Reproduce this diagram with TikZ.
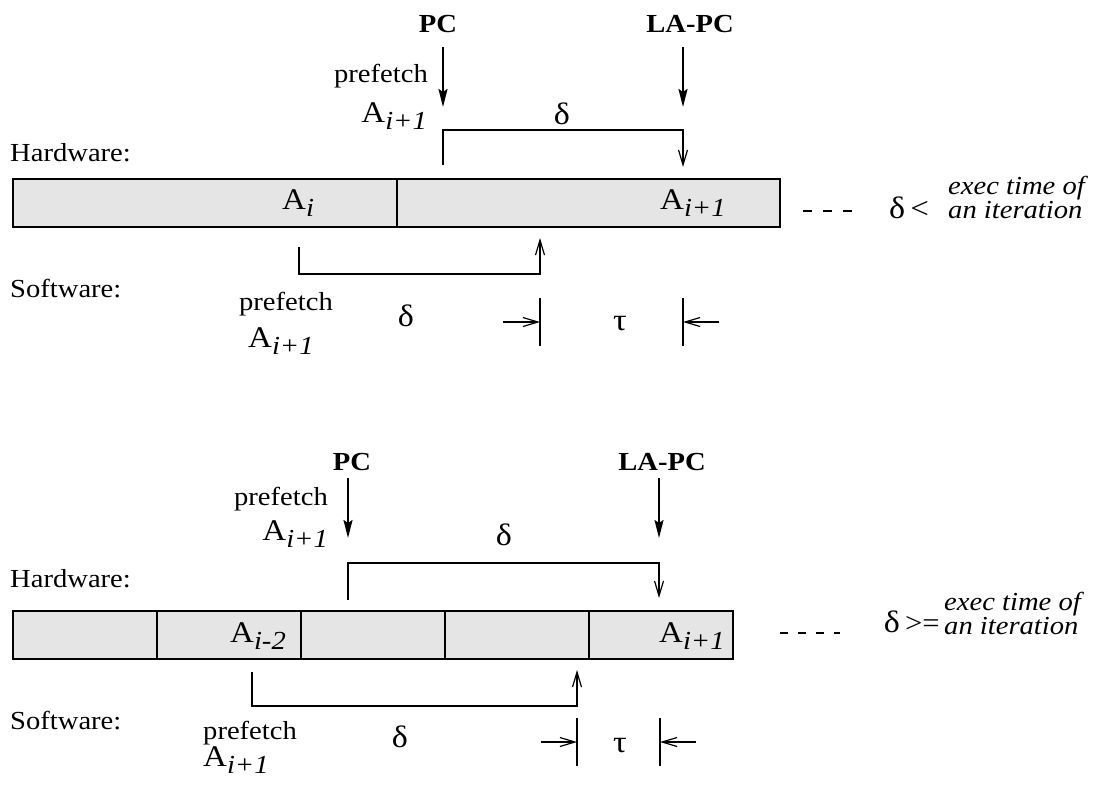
\documentclass[tikz,border=0pt]{standalone}
\usepackage{fontspec}
\setmainfont{Liberation Serif}[FakeStretch=1.1]
\usetikzlibrary{arrows.meta}
\newcommand{\sbs}[1]{\raisebox{-7pt}{\textit{#1}}}
\newcommand{\Alab}{{\fontsize{30}{32}\selectfont A}}
\begin{document}
\begin{tikzpicture}[x=1pt,y=-1pt,
  txt/.style={inner sep=0pt, font=\fontsize{26}{28}\selectfont},
  grk/.style={inner sep=0pt, font=\fontsize{31}{33}\selectfont},
  bld/.style={inner sep=0pt, font=\fontsize{26}{28}\selectfont\bfseries},
  itx/.style={inner sep=0pt, font=\fontsize{26}{28}\selectfont\itshape},
  bigarrow/.style={line width=2pt, -{Stealth[length=18pt,width=9pt,inset=3pt]}},
  brkarrow/.style={line width=1.2pt, -{Straight Barb[length=15pt,width=9pt]}},
  thinline/.style={line width=1.2pt},
  cell/.style={draw, line width=1.5pt, fill=black!10, minimum height=48pt, inner sep=0pt, anchor=north west},
  dashline/.style={line width=1.2pt, dash pattern=on 9pt off 11pt}
]
\useasboundingbox (0,0) rectangle (1115,790);

%% ================= TOP PANEL =================
\node[bld, anchor=base] (pcA) at (438,32) {PC};
\node[bld, anchor=base] (lapcA) at (690,32) {LA-PC};
\coordinate (pcAs) at (443,47);  \coordinate (pcAe) at (443,107);
\coordinate (laAs) at (683,47);  \coordinate (laAe) at (683,107);
\draw[bigarrow] (pcAs) -- (pcAe);
\draw[bigarrow] (laAs) -- (laAe);

\node[txt, anchor=base east] (pfA) at (428,82) {prefetch};
\node[txt, anchor=base east] (aA) at (427,122) {\Alab\sbs{i+1}};
\node[grk] (dA) at (562,114) {δ};
\node[txt, anchor=base west] (hwA) at (10,161) {Hardware:};

\coordinate (hbA1) at (443,165);
\coordinate (hbA2) at (683,167);
\draw[brkarrow] (hbA1) -- ++(0,-35) -| (hbA2);

\node[cell, minimum width=384pt] (cA1) at (12,178) {};
\node[cell, minimum width=383pt] (cA2) at (396,178) {};
\node[txt, anchor=base west] (aiA) at (282,209) {\Alab\sbs{i}};
\node[txt, anchor=base west] (ai1A) at (660,209) {\Alab\sbs{i+1}};

\coordinate (dsA1) at (803,211); \coordinate (dsA2) at (852,211);
\draw[dashline] (dsA1) -- (dsA2);
\node[grk, anchor=base west] (ltA) at (889,218) {δ\,{\fontsize{30}{32}\selectfont<}};
\node[itx, anchor=base west] (exA) at (948,194) {exec time of};
\node[itx, anchor=base west] (itA) at (948,218) {an iteration};

\coordinate (sbA1) at (299,247);
\coordinate (sbA2) at (540,238);
\draw[brkarrow] (sbA1) -- ++(0,27) -| (sbA2);

\node[txt, anchor=base west] (swA) at (10,297) {Software:};
\node[txt, anchor=base] (pfA2) at (286,310) {prefetch};
\node[txt, anchor=base west] (aA2) at (248,347) {\Alab\sbs{i+1}};
\node[grk] (dA2) at (406,316) {δ};
\node[grk] (tA) at (620,324) {τ};

\coordinate (vA1t) at (540,298); \coordinate (vA1b) at (540,346);
\coordinate (vA2t) at (683,298); \coordinate (vA2b) at (683,346);
\draw[thinline] (vA1t) -- (vA1b);
\draw[thinline] (vA2t) -- (vA2b);
\coordinate (arA1) at (503,322); \coordinate (arA1e) at (540,322);
\coordinate (arA2) at (719,322); \coordinate (arA2e) at (683,322);
\draw[brkarrow] (arA1) -- (arA1e);
\draw[brkarrow] (arA2) -- (arA2e);

%% ================= BOTTOM PANEL =================
\node[bld, anchor=base] (pcB) at (352,470) {PC};
\node[bld, anchor=base] (lapcB) at (662,470) {LA-PC};
\coordinate (pcBs) at (348,478);  \coordinate (pcBe) at (348,538);
\coordinate (laBs) at (659,478);  \coordinate (laBe) at (659,538);
\draw[bigarrow] (pcBs) -- (pcBe);
\draw[bigarrow] (laBs) -- (laBe);

\node[txt, anchor=base east] (pfB) at (328,505) {prefetch};
\node[txt, anchor=base east] (aB) at (328,540) {\Alab\sbs{i+1}};
\node[grk] (dB) at (504,535) {δ};
\node[txt, anchor=base west] (hwB) at (10,587) {Hardware:};

\coordinate (hbB1) at (348,600);
\coordinate (hbB2) at (659,598);
\draw[brkarrow] (hbB1) -- ++(0,-37) -| (hbB2);

\node[cell, minimum width=144pt] (cB1) at (12,610) {};
\node[cell, minimum width=144pt] (cB2) at (156,610) {};
\node[cell, minimum width=144pt] (cB3) at (300,610) {};
\node[cell, minimum width=144pt] (cB4) at (444,610) {};
\node[cell, minimum width=144pt] (cB5) at (588,610) {};
\node[txt, anchor=base west] (ai2B) at (230,642) {\Alab\sbs{i-2}};
\node[txt, anchor=base west] (ai1B) at (659,642) {\Alab\sbs{i+1}};

\coordinate (dsB1) at (780,633); \coordinate (dsB2) at (840,633);
\draw[dashline, dash pattern=on 8pt off 10pt] (dsB1) -- (dsB2);
\node[grk, anchor=base east] (geB) at (940,632) {δ\,{\fontsize{28}{30}\selectfont >=}};
\node[itx, anchor=base west] (exB) at (944,610) {exec time of};
\node[itx, anchor=base west] (itB) at (944,634) {an iteration};

\coordinate (sbB1) at (252,672);
\coordinate (sbB2) at (577,670);
\draw[brkarrow] (sbB1) -- ++(0,34) -| (sbB2);

\node[txt, anchor=base west] (swB) at (10,729) {Software:};
\node[txt, anchor=base west] (pfB2) at (203,739) {prefetch};
\node[txt, anchor=base west] (aB2) at (203,766) {\Alab\sbs{i+1}};
\node[grk] (dB2) at (400,737) {δ};
\node[grk] (tB) at (620,746) {τ};

\coordinate (vB1t) at (577,718); \coordinate (vB1b) at (577,766);
\coordinate (vB2t) at (660,718); \coordinate (vB2b) at (660,766);
\draw[thinline] (vB1t) -- (vB1b);
\draw[thinline] (vB2t) -- (vB2b);
\coordinate (arB1) at (541,742); \coordinate (arB1e) at (577,742);
\coordinate (arB2) at (696,742); \coordinate (arB2e) at (660,742);
\draw[brkarrow] (arB1) -- (arB1e);
\draw[brkarrow] (arB2) -- (arB2e);
\end{tikzpicture}
\end{document}
